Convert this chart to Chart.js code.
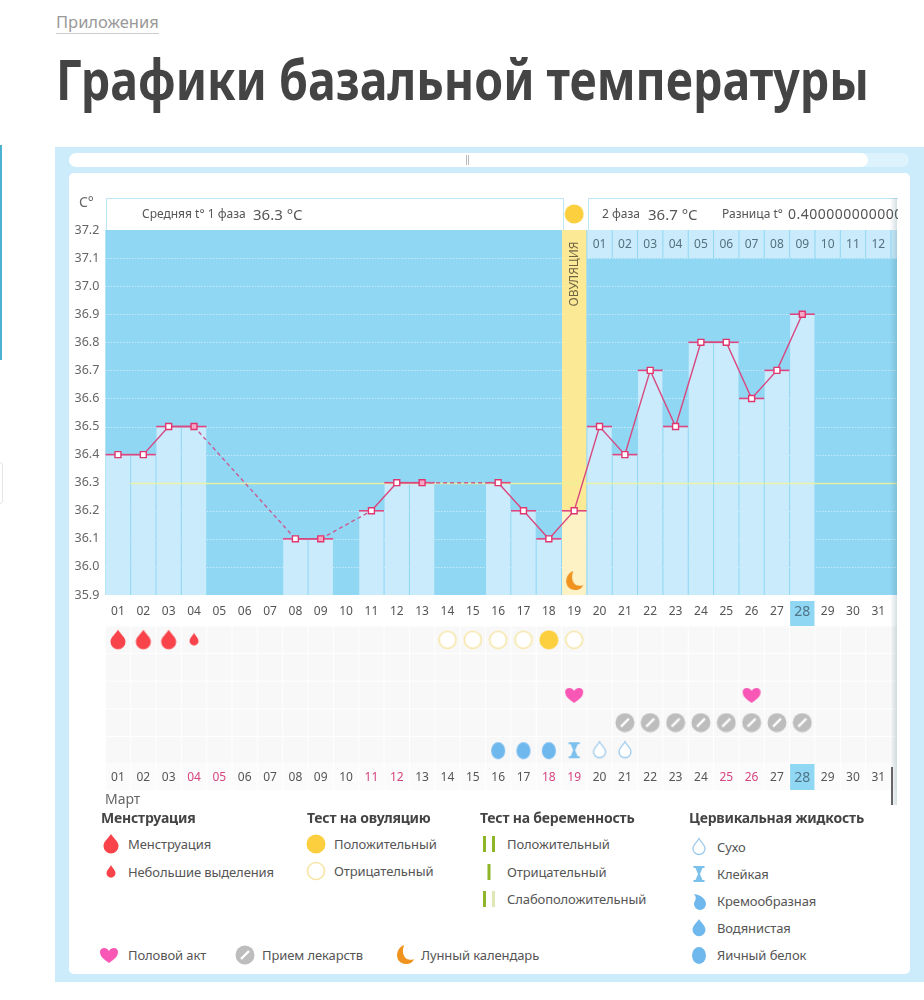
<!DOCTYPE html>
<html lang="ru">
<head>
<meta charset="utf-8">
<title>Графики базальной температуры</title>
<script src="https://cdn.jsdelivr.net/npm/chart.js@4"></script>
<style>
html, body { margin: 0; padding: 0; background: #fff; }
body { position: relative; width: 924px; height: 1000px; overflow: hidden; font-family: "Noto Sans", sans-serif; color: #555; }
.abs { position: absolute; }
.txt { position: absolute; white-space: nowrap; line-height: 16px; }
canvas { position: absolute; }
.lg { font-size: 13px; color: #555; transform: translateY(-8px); letter-spacing: -0.1px; }
.lgh { font-size: 14px; font-weight: 700; color: #444; transform: translateY(-8px); letter-spacing: -0.2px; }
</style>
</head>
<body>
<div class="abs" style="left:0;top:145px;width:2px;height:215px;background:#4db2d0"></div>
<div class="abs" style="left:-4px;top:462px;width:5px;height:40px;border:1px solid #e6e6e6;border-radius:3px"></div>
<div class="txt" style="left:56px;top:14px;font-size:16.5px;color:#999;border-bottom:1px solid #ccc;height:19px">Приложения</div>
<div class="txt" id="title" style="left:56px;top:46px;font-size:56px;line-height:64px;font-weight:700;color:#444;transform-origin:left top;transform:scaleX(0.83)">Графики базальной температуры</div>

<div class="abs" style="left:55px;top:147px;right:0;height:835px;background:#cdecfb"></div>
<div class="abs" style="left:69px;top:153px;width:840px;height:14px;background:#dcf2fc;border-radius:7px"></div>
<div class="abs" style="left:69px;top:153px;width:799px;height:14px;background:#fff;border-radius:7px"></div>
<div class="abs" style="left:466px;top:155px;width:3px;height:10px;border-left:1px solid #bbb;border-right:1px solid #bbb;box-sizing:border-box"></div>
<div class="abs" style="left:69px;top:173px;width:841px;height:801px;background:#fff;border-radius:5px"></div>

<canvas id="tempChart" width="924" height="446" style="left:0;top:180px"></canvas>
<canvas id="marksChart" width="924" height="165" style="left:0;top:626px"></canvas>

<div class="abs" style="left:106px;top:198px;width:456px;height:31px;border:1px solid #bfe6f6;border-bottom:0;box-sizing:content-box"></div>
<div class="abs" style="left:588px;top:198px;width:309px;height:31px;border-top:1px solid #bfe6f6;border-left:1px solid #bfe6f6;overflow:hidden">
  <div class="txt" style="left:13px;top:7px;font-size:12px">2 фаза</div>
  <div class="txt" style="left:59px;top:7px;font-size:15px">36.7 °C</div>
  <div class="txt" style="left:133px;top:7px;font-size:12px">Разница t°</div>
  <div class="txt" style="left:199px;top:7px;font-size:14px;letter-spacing:0.5px">0.400000000000</div>
</div>
<div class="txt" style="left:142px;top:206px;font-size:12px">Средняя t° 1 фаза</div>
<div class="txt" style="left:253px;top:206px;font-size:15px">36.3 °C</div>
<div class="txt" style="left:79px;top:194px;font-size:14px;color:#666">C°</div>

<div class="abs" style="left:890px;top:198px;width:7px;height:607px;background:linear-gradient(to right,rgba(70,110,130,0),rgba(70,110,130,.22))"></div>
<div class="abs" style="left:891px;top:767px;width:2px;height:38px;background:#666"></div>
<div class="txt" style="left:105px;top:791px;font-size:14px;color:#666">Март</div>

<div id="legend"></div>

<script>
const days = ['01','02','03','04','05','06','07','08','09','10','11','12','13','14','15','16','17','18','19','20','21','22','23','24','25','26','27','28','29','30','31'];
const temps = [36.4,36.4,36.5,36.5,null,null,null,36.1,36.1,null,36.2,36.3,36.3,null,null,36.3,36.2,36.1,36.2,36.5,36.4,36.7,36.5,36.8,36.8,36.6,36.7,36.9,null,null,null];
const tempTicks = ['37.2','37.1','37.0','36.9','36.8','36.7','36.6','36.5','36.4','36.3','36.2','36.1','36.0','35.9'];
const phaseDays = ['01','02','03','04','05','06','07','08','09','10','11','12','13'];
const phaseStartDay = '20';
const ovulationDay = '19';
const todayDay = '28';
const firstPhaseMean = 36.3;
const filledMarkerDays = ['04','09','13','28'];
const pinkDays = ['04','05','11','12','18','19','25','26'];

const menstruationDays = ['01','02','03'];
const spottingDays = ['04'];
const ovulationNegDays = ['14','15','16','17','19'];
const ovulationPosDays = ['18'];
const heartDays = ['19','26'];
const pillDays = ['21','22','23','24','25','26','27','28'];
const eggWhiteDays = ['16','17','18'];
const stickyDays = ['19'];
const dryDays = ['20','21'];

// --- icons, drawn once and used both as point styles and in the legend
function makeIcon(w, h, draw) {
    const c = document.createElement('canvas');
    c.width = w;
    c.height = h;
    const g = c.getContext('2d');
    g.translate(w / 2, h / 2);
    draw(g);
    return c;
}

function dropPath(g, r, top) {
    g.beginPath();
    g.moveTo(0, -top);
    g.bezierCurveTo(r * 0.35, -top * 0.55, r, -r * 0.35, r, r * 0.25);
    g.arc(0, r * 0.25, r, 0, Math.PI);
    g.bezierCurveTo(-r, -r * 0.35, -r * 0.35, -top * 0.55, 0, -top);
    g.closePath();
}

const icons = {
    drop: makeIcon(18, 22, g => { g.fillStyle = '#f9434a'; dropPath(g, 7.5, 10); g.fill(); }),
    smallDrop: makeIcon(12, 16, g => { g.fillStyle = '#f9434a'; dropPath(g, 4.5, 7); g.fill(); }),
    sunFull: makeIcon(20, 20, g => { g.fillStyle = '#fbcf3e'; g.beginPath(); g.arc(0, 0, 9.5, 0, 7); g.fill(); }),
    ring: makeIcon(20, 20, g => { g.fillStyle = '#fff'; g.strokeStyle = '#f7e6a8'; g.lineWidth = 1.6; g.beginPath(); g.arc(0, 0, 8.5, 0, 7); g.fill(); g.stroke(); }),
    heart: makeIcon(20, 18, g => {
        g.fillStyle = '#f857b5';
        g.beginPath();
        g.moveTo(0, 8);
        g.bezierCurveTo(-4, 5, -9, 2, -9, -3);
        g.bezierCurveTo(-9, -8, -2, -8, 0, -4);
        g.bezierCurveTo(2, -8, 9, -8, 9, -3);
        g.bezierCurveTo(9, 2, 4, 5, 0, 8);
        g.fill();
    }),
    pill: makeIcon(20, 20, g => {
        g.fillStyle = '#bdbdbd';
        g.beginPath(); g.arc(0, 0, 9.5, 0, 7); g.fill();
        g.strokeStyle = '#fff'; g.lineWidth = 2.4;
        g.beginPath(); g.moveTo(-4, 4); g.lineTo(4, -4); g.stroke();
    }),
    egg: makeIcon(16, 20, g => { g.fillStyle = '#6fb8ee'; g.beginPath(); g.ellipse(0, 0.5, 7, 8.5, 0, 0, 7); g.fill(); }),
    sticky: makeIcon(14, 18, g => {
        g.fillStyle = '#7cc0ec';
        g.fillRect(-5.5, -8, 11, 2);
        g.fillRect(-5.5, 6, 11, 2);
        g.beginPath();
        g.moveTo(-3.5, -6); g.lineTo(3.5, -6); g.lineTo(1, 0); g.lineTo(3.5, 6); g.lineTo(-3.5, 6); g.lineTo(-1, 0);
        g.closePath();
        g.fill();
    }),
    dry: makeIcon(16, 20, g => { g.fillStyle = '#fff'; g.strokeStyle = '#9cc9ea'; g.lineWidth = 1.3; dropPath(g, 6, 8.5); g.fill(); g.stroke(); }),
    creamy: makeIcon(16, 18, g => {
        g.fillStyle = '#6fb8ee';
        g.beginPath();
        g.moveTo(-5, -7);
        g.bezierCurveTo(2, -6, 7, -2, 7, 3);
        g.arc(1, 3, 6, 0, Math.PI);
        g.bezierCurveTo(-5, 0, -1, -2, -5, -7);
        g.fill();
    }),
    watery: makeIcon(16, 20, g => { g.fillStyle = '#6fb8ee'; dropPath(g, 6.5, 9); g.fill(); }),
    moon: makeIcon(22, 22, g => {
        g.fillStyle = '#f0921e';
        g.beginPath();
        g.moveTo(-1, -10);
        g.bezierCurveTo(-11, -6, -10, 9, 1, 9);
        g.bezierCurveTo(5, 9, 8, 7, 9, 4);
        g.bezierCurveTo(3, 7, -5, 2, -1, -10);
        g.fill();
    }),
    pregPos: makeIcon(16, 18, g => { g.fillStyle = '#8fb52a'; g.fillRect(-6, -8, 3, 16); g.fillRect(3, -8, 3, 16); }),
    pregNeg: makeIcon(16, 18, g => { g.fillStyle = '#8fb52a'; g.fillRect(-1.5, -8, 3, 16); }),
    pregWeak: makeIcon(16, 18, g => { g.fillStyle = '#8fb52a'; g.fillRect(-6, -8, 3, 16); g.fillStyle = '#dce7b5'; g.fillRect(3, -8, 3, 16); })
};

// --- upper chart: temperature
const plotBlue = '#90d7f3';
const barBlue = '#c9ebfc';
const extraRight = 6; // the plot runs a little past the last day, cut off by the scroller

const tempBackground = {
    id: 'tempBackground',
    beforeDraw(chart) {
        const { ctx, chartArea: a, scales: { x, y } } = chart;
        ctx.save();
        ctx.fillStyle = plotBlue;
        ctx.fillRect(a.left, a.top, a.width + extraRight, a.height);

        // dotted grid
        ctx.strokeStyle = 'rgba(255,255,255,.75)';
        ctx.setLineDash([1, 2]);
        ctx.lineWidth = 1;
        tempTicks.slice(1).forEach(t => {
            const py = Math.round(y.getPixelForValue(parseFloat(t))) + 0.5;
            ctx.beginPath();
            ctx.moveTo(a.left, py);
            ctx.lineTo(a.right + extraRight, py);
            ctx.stroke();
        });
        ctx.setLineDash([]);

        // today box under the axis
        const cell = x.getPixelForValue(1) - x.getPixelForValue(0);
        ctx.fillStyle = plotBlue;
        ctx.fillRect(x.getPixelForValue(days.indexOf(todayDay)) - cell / 2 + 0.5, a.bottom + 6, cell - 1, 25);
        ctx.restore();
    },
    beforeDatasetsDraw(chart) {
        const { ctx, chartArea: a, scales: { x, y } } = chart;
        const cell = x.getPixelForValue(1) - x.getPixelForValue(0);
        const start = days.indexOf(phaseStartDay);
        const rowTop = a.top;
        const rowH = y.getPixelForValue(37.1) - y.getPixelForValue(37.2);
        ctx.save();
        ctx.beginPath();
        ctx.rect(a.left, a.top - 40, a.width + extraRight, a.height + 40);
        ctx.clip();
        ctx.font = '12px "Noto Sans"';
        ctx.textAlign = 'center';
        ctx.textBaseline = 'middle';
        phaseDays.forEach((d, i) => {
            const cx = x.getPixelForValue(start) + i * cell;
            ctx.fillStyle = barBlue;
            ctx.fillRect(cx - cell / 2 + 0.5, rowTop, cell - 1, rowH);
            if (i < 12) {
                ctx.fillStyle = '#55707f';
                ctx.fillText(d, cx, rowTop + rowH / 2 + 0.5);
            }
        });
        ctx.restore();
    },
    afterDatasetsDraw(chart) {
        const { ctx, chartArea: a, scales: { x, y } } = chart;
        const cell = x.getPixelForValue(1) - x.getPixelForValue(0);
        ctx.save();
        const ox = x.getPixelForValue(days.indexOf(ovulationDay));

        // the sun sits in the header, above the plot
        ctx.drawImage(icons.sunFull, ox - 10, a.top - 26);

        ctx.translate(ox, a.top + 44);
        ctx.rotate(-Math.PI / 2);
        ctx.font = '12px "Noto Sans"';
        ctx.fillStyle = '#6f6443';
        ctx.textAlign = 'center';
        ctx.textBaseline = 'middle';
        ctx.fillText('ОВУЛЯЦИЯ', 0, 0);
        ctx.restore();
    },
    beforeDatasetDraw(chart, args) {
        // mean of the first phase goes over the bars, under the line
        if (args.meta.order !== 2) return;
        const { ctx, chartArea: a, scales: { x, y } } = chart;
        const cell = x.getPixelForValue(1) - x.getPixelForValue(0);
        const py = Math.round(y.getPixelForValue(firstPhaseMean)) + 0.5;
        ctx.save();
        ctx.strokeStyle = 'rgba(240,245,150,.85)';
        ctx.lineWidth = 1.5;
        ctx.beginPath();
        ctx.moveTo(x.getPixelForValue(1) - cell / 2, py);
        ctx.lineTo(a.right + extraRight, py);
        ctx.stroke();
        ctx.restore();
    }
};

const ovulationIndex = days.indexOf(ovulationDay);
const ovulationBand = days.map(d => d === ovulationDay ? [temps[ovulationIndex], 37.2] : null);
const moonMarker = days.map(d => d === ovulationDay ? 35.95 : null);

new Chart(document.getElementById('tempChart'), {
    type: 'bar',
    data: {
        labels: days,
        datasets: [
            {
                type: 'line',
                data: temps,
                order: 1,
                spanGaps: true,
                borderColor: '#d9477f',
                borderWidth: 1.4,
                tension: 0,
                clip: false,
                segment: {
                    borderDash: c => c.p0.skip || c.p1.skip ? [4, 3] : undefined,
                    borderColor: c => c.p0.skip || c.p1.skip ? '#c75f96' : undefined
                },
                pointStyle: 'rect',
                pointRadius: 4.2,
                pointBorderWidth: 1.4,
                pointBorderColor: '#e0366f',
                pointBackgroundColor: days.map(d => filledMarkerDays.includes(d) ? '#f7a8c4' : '#fff')
            },
            {
                // horizontal cap over each bar
                type: 'line',
                data: temps,
                order: 2,
                showLine: false,
                clip: false,
                pointStyle: 'line',
                pointRadius: 12.5,
                pointBorderWidth: 1.6,
                pointBorderColor: '#e0457f'
            },
            {
                type: 'line',
                data: moonMarker,
                order: 0,
                showLine: false,
                clip: false,
                pointStyle: icons.moon,
                pointRadius: 10
            },
            {
                data: temps,
                order: 3,
                grouped: false,
                categoryPercentage: 1,
                barPercentage: 0.96,
                backgroundColor: days.map(d => d === ovulationDay ? '#fdf1c6' : barBlue)
            },
            {
                data: ovulationBand,
                order: 4,
                grouped: false,
                categoryPercentage: 1,
                barPercentage: 0.96,
                backgroundColor: '#fce996'
            }
        ]
    },
    options: {
        responsive: false,
        animation: false,
        layout: { autoPadding: false, padding: { left: 65.3, right: 33, top: 50, bottom: 0 } },
        plugins: { legend: { display: false }, tooltip: { enabled: false } },
        scales: {
            x: {
                type: 'category',
                grid: { display: false, drawTicks: false },
                border: { display: false },
                afterFit(s) { s.height = 31; },
                ticks: {
                    autoSkip: false,
                    maxRotation: 0,
                    padding: 9,
                    color: c => days[c.index] === todayDay ? '#4f7488' : '#555',
                    font: c => ({ family: 'Noto Sans', size: days[c.index] === todayDay ? 14 : 12 })
                }
            },
            y: {
                min: 35.9,
                max: 37.2,
                grid: { display: false, drawTicks: false },
                border: { display: false },
                afterFit(s) { s.width = 40; },
                afterBuildTicks(s) { s.ticks = tempTicks.map(t => ({ value: parseFloat(t) })); },
                ticks: {
                    autoSkip: false,
                    padding: 6,
                    color: '#666',
                    font: { family: 'Noto Sans', size: 12.5 },
                    callback: v => v.toFixed(1)
                }
            }
        }
    },
    plugins: [tempBackground]
});

// --- lower chart: the daily marks, one row per kind
function marks(list, row) {
    return list.map(d => ({ x: d, y: row }));
}

function markSet(list, row, icon) {
    return {
        data: marks(list, row),
        showLine: false,
        clip: false,
        pointStyle: icon,
        pointRadius: 10
    };
}

const marksBackground = {
    id: 'marksBackground',
    beforeDraw(chart) {
        const { ctx, chartArea: a, scales: { x, y } } = chart;
        const cell = x.getPixelForValue(1) - x.getPixelForValue(0);
        const rowH = y.getPixelForValue(2) - y.getPixelForValue(1);
        ctx.save();
        ctx.beginPath();
        ctx.rect(a.left, a.top, a.width + extraRight, chart.height - a.top);
        ctx.clip();
        for (let i = 0; i <= days.length; i++) {
            const cx = x.getPixelForValue(0) + i * cell;
            for (let r = 1; r <= 5; r++) {
                ctx.fillStyle = '#f8f8f8';
                ctx.fillRect(cx - cell / 2 + 0.5, y.getPixelForValue(r) - rowH / 2 + 0.5, cell - 1, rowH - 1);
            }
            ctx.fillStyle = '#fbfbfb';
            ctx.fillRect(cx - cell / 2 + 0.5, a.bottom, cell - 1, 26);
        }
        ctx.fillStyle = plotBlue;
        ctx.fillRect(x.getPixelForValue(days.indexOf(todayDay)) - cell / 2 + 0.5, a.bottom, cell - 1, 26);
        ctx.restore();
    }
};

new Chart(document.getElementById('marksChart'), {
    type: 'line',
    data: {
        labels: days,
        datasets: [
            markSet(menstruationDays, 1, icons.drop),
            markSet(spottingDays, 1, icons.smallDrop),
            markSet(ovulationNegDays, 1, icons.ring),
            markSet(ovulationPosDays, 1, icons.sunFull),
            markSet(heartDays, 3, icons.heart),
            markSet(pillDays, 4, icons.pill),
            markSet(eggWhiteDays, 5, icons.egg),
            markSet(stickyDays, 5, icons.sticky),
            markSet(dryDays, 5, icons.dry)
        ]
    },
    options: {
        responsive: false,
        animation: false,
        layout: { autoPadding: false, padding: { left: 105.3, right: 33, top: 0, bottom: 0 } },
        plugins: { legend: { display: false }, tooltip: { enabled: false } },
        scales: {
            x: {
                type: 'category',
                offset: true,
                grid: { display: false, drawTicks: false },
                border: { display: false },
                afterFit(s) { s.height = 27; },
                ticks: {
                    autoSkip: false,
                    maxRotation: 0,
                    padding: 6,
                    color: c => days[c.index] === todayDay ? '#4f7488' : pinkDays.includes(days[c.index]) ? '#d6447f' : '#555',
                    font: c => ({ family: 'Noto Sans', size: days[c.index] === todayDay ? 14 : 12 })
                }
            },
            y: {
                display: false,
                reverse: true,
                min: 0.5,
                max: 5.5
            }
        }
    },
    plugins: [marksBackground]
});

// --- legend
const legendHeads = [
    ['Менструация', 101, 818],
    ['Тест на овуляцию', 307, 818],
    ['Тест на беременность', 480, 818],
    ['Цервикальная жидкость', 689, 818]
];
const legendItems = [
    ['drop', 'Менструация', 111, 128, 844],
    ['smallDrop', 'Небольшие выделения', 111, 128, 872],
    ['sunFull', 'Положительный', 316, 334, 844],
    ['ring', 'Отрицательный', 316, 334, 871],
    ['pregPos', 'Положительный', 489, 507, 844],
    ['pregNeg', 'Отрицательный', 489, 507, 872],
    ['pregWeak', 'Слабоположительный', 489, 507, 899],
    ['dry', 'Сухо', 699, 717, 847],
    ['sticky', 'Клейкая', 699, 717, 874],
    ['creamy', 'Кремообразная', 699, 717, 901],
    ['watery', 'Водянистая', 699, 717, 928],
    ['egg', 'Яичный белок', 699, 717, 955],
    ['heart', 'Половой акт', 109, 128, 955],
    ['pill', 'Прием лекарств', 245, 262, 955],
    ['moon', 'Лунный календарь', 405, 421, 955]
];
const legend = document.getElementById('legend');
legendHeads.forEach(([label, x, y]) => {
    const el = document.createElement('div');
    el.className = 'txt lgh';
    el.style.left = x + 'px';
    el.style.top = y + 'px';
    el.textContent = label;
    legend.appendChild(el);
});
legendItems.forEach(([icon, label, ix, tx, y]) => {
    const src = icons[icon];
    const c = document.createElement('canvas');
    c.width = src.width;
    c.height = src.height;
    c.getContext('2d').drawImage(src, 0, 0);
    c.style.left = (ix - src.width / 2) + 'px';
    c.style.top = (y - src.height / 2) + 'px';
    legend.appendChild(c);
    const el = document.createElement('div');
    el.className = 'txt lg';
    el.style.left = tx + 'px';
    el.style.top = y + 'px';
    el.textContent = label;
    legend.appendChild(el);
});
</script>
</body>
</html>
